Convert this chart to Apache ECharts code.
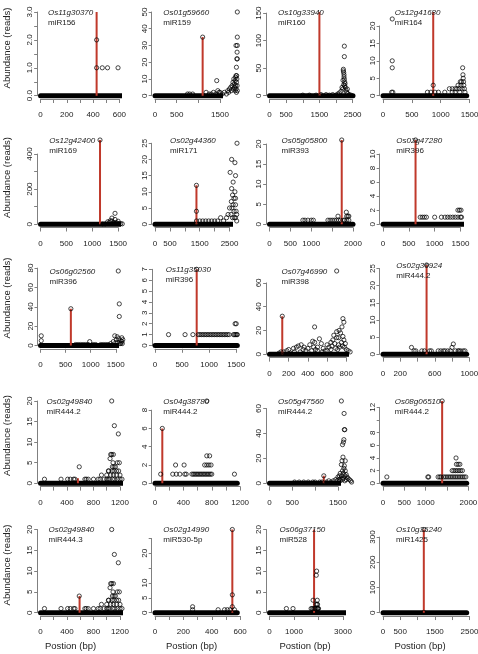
<!DOCTYPE html>
<html><head><meta charset="utf-8">
<script src="https://cdn.jsdelivr.net/npm/echarts@6/dist/echarts.min.js"></script>
<style>html,body{margin:0;padding:0;background:#fff}#c{width:478px;height:654px}</style>
</head><body><div id="c"></div>
<script>
// ---------------- data ----------------
const genes = ['Os11g30370','Os01g59660','Os10g33940','Os12g41680','Os12g42400','Os02g44360','Os05g05800','Os02g47280','Os06g02560','Os11g35030','Os07g46990','Os02g36924','Os02g49840','Os04g38780','Os05g47560','Os08g06510','Os02g49840','Os02g14990','Os06g37150','Os10g35240'];
const mirnas = ['miR156','miR159','miR160','miR164','miR169','miR171','miR393','miR396','miR396','miR396','miR398','miR444.2','miR444.2','miR444.2','miR444.2','miR444.2','miR444.3','miR530-5p','miR528','miR1425'];
const geneLen = [630,1900,2510,1450,1600,2760,2000,1620,1650,1520,870,970,1250,1160,1830,1960,1250,580,3410,2420];
const yTop = [3,50,152,24,480,26,21,12,77,7,70,26,20,9,66,13,20,28,20,330];
const redX = [427,1100,1500,870,1150,1390,1730,630,605,770,133,505,565,103,1190,1385,590,545,1820,1180];
const redH = [3,35,152,24,480,12,21,12,38,7,32,26,1.2,6,6,13,4,28,20,330];
const xStep = [100,500,500,500,500,500,500,500,500,500,200,200,200,200,500,500,200,100,1000,500];
const xLast = [600,1500,2500,1500,1500,2500,2000,1500,1500,1500,800,1000,1200,1200,1500,2000,1200,600,3000,2500];
const xLabels = [[0,200,400,600],[0,500,1500],[0,500,1500,2500],[0,500,1000,1500],[0,500,1000,1500],[0,500,1500,2500],[0,500,1000,2000],[0,500,1000,1500],[0,500,1000,1500],[0,500,1000,1500],[0,200,400,600,800],[0,200,600,1000],[0,400,800,1200],[0,400,800,1200],[0,500,1500],[0,500,1000,2000],[0,400,800,1200],[0,200,400,600],[0,1000,3000],[0,500,1500,2500]];
const yStep = [0.5,10,50,5,100,5,5,2,20,1,20,5,5,2,20,2,5,5,5,100];
const yLast = [3,50,150,20,400,25,20,10,80,7,60,25,20,8,60,12,20,25,20,300];
const yLabels = [[0,1,2,3],[0,10,20,30,40,50],[0,50,100,150],[0,5,10,15,20],[0,200,400],[0,5,10,15,20,25],[0,5,10,15,20],[0,2,4,6,8,10],[0,20,40,60,80],[0,1,2,3,4,5,6,7],[0,20,40,60],[0,5,10,15,20,25],[0,5,10,15,20],[0,2,4,6,8],[0,20,40,60],[0,2,4,6,8,12],[0,5,10,15,20],[0,5,10,20],[0,5,10,15,20],[0,100,200,300]];

const pts01 = [[427,1],[427,2],[470,1],[510,1],[590,1]];
const pts02 = [[750,1],[800,1],[870,1],[1100,35],[1180,2],[1250,1],[1300,1],[1350,2],[1400,1],[1425,9],[1450,3],[1480,2],[1500,2],[1550,1],[1600,2],[1650,1],[1680,3],[1700,2],[1720,4],[1750,5],[1760,3],[1780,6],[1800,8],[1800,4],[1820,10],[1830,7],[1840,5],[1850,9],[1850,3],[1860,11],[1860,6],[1870,12],[1870,4],[1880,17],[1880,8],[1880,2],[1890,22],[1890,10],[1895,26],[1895,6],[1900,30],[1900,35],[1900,50],[1900,22],[1900,3],[1870,30],[1885,12]];
const pts03 = [[2250,90],[2250,71],[2220,48],[2220,45],[2230,42],[2240,38],[2240,34],[2250,30],[2260,25],[2230,20],[2280,15],[2200,12],[2300,10],[2150,8],[2320,6],[2100,5],[2350,4],[2050,3],[2400,2],[1900,2],[1700,2],[1550,2],[1000,1],[1200,1],[1400,1],[1800,1],[2000,1],[2450,1],[2260,18],[2270,22],[2210,28],[2180,15],[2340,12]];
const pts04 = [[160,22],[160,10],[160,8],[150,1],[170,1],[870,3],[770,1],[830,1],[900,1],[960,1],[1070,1],[1150,2],[1200,2],[1250,2],[1280,2],[1300,3],[1320,2],[1340,4],[1350,3],[1360,4],[1380,8],[1385,6],[1390,5],[1395,4],[1400,3],[1410,2],[1420,1],[1370,2],[1330,1],[1200,1],[1250,1]];
const pts05 = [[1150,480],[1440,62],[1380,35],[1440,27],[1300,14],[1500,17],[1350,20],[1420,10],[1460,8],[1480,6],[1400,5],[1520,4],[1550,3],[1250,2],[1200,2],[1580,2],[1330,10],[1380,18]];
const pts06 = [[1390,12],[1390,4],[1390,1],[2750,25],[2570,20],[2680,19],[2520,16],[2700,15],[2620,13],[2570,11],[2680,10],[2600,9],[2650,8],[2700,8],[2560,7],[2620,6],[2700,6],[2500,5],[2580,5],[2650,4],[2720,4],[2450,3],[2550,3],[2600,2],[2700,2],[2400,2],[2300,1],[2200,2],[2100,1],[2000,1],[1900,1],[1800,1],[1700,1],[1600,1],[1500,1],[2740,3],[2740,1],[2660,2]];
const pts07 = [[1730,21],[800,1],[850,1],[920,1],[1000,1],[1050,1],[1400,1],[1450,1],[1500,1],[1550,1],[1600,1],[1650,1],[1700,1],[1780,1],[1850,1],[1900,1],[1640,2],[1850,2],[1900,2],[1840,3],[1880,2],[1800,1]];
const pts08 = [[630,12],[720,1],[760,1],[800,1],[840,1],[1000,1],[1130,1],[1200,1],[1250,1],[1300,1],[1350,1],[1400,1],[1450,1],[1500,1],[1520,1],[1450,2],[1480,2],[1510,2]];
const pts09 = [[605,38],[15,10],[15,5],[1550,77],[1570,43],[1570,30],[1480,10],[1530,9],[1510,6],[1560,7],[1600,5],[1620,4],[1450,4],[1500,3],[1540,3],[1580,2],[1600,2],[1630,2],[1400,2],[1350,1],[1300,1],[980,4],[700,1],[750,1],[800,1],[850,1],[900,1],[950,1],[1050,1],[1100,1],[1200,1],[1250,1],[1640,6],[1620,8]];
const pts10 = [[250,1],[555,1],[700,1],[770,7],[800,1],[830,1],[860,1],[890,1],[920,1],[950,1],[980,1],[1010,1],[1040,1],[1070,1],[1100,1],[1130,1],[1160,1],[1190,1],[1220,1],[1250,1],[1280,1],[1310,1],[1340,1],[1370,1],[1450,1],[1470,1],[1490,1],[1510,1],[1480,2],[1500,2],[1520,1]];
const pts11 = [[133,32],[700,70],[470,23],[765,30],[775,27],[755,23],[725,20],[700,19],[740,18],[765,15],[700,14],[775,12],[450,11],[470,10],[520,13],[540,9],[330,8],[300,7],[280,6],[360,6],[400,5],[420,8],[250,5],[200,4],[180,3],[150,2],[120,2],[100,1],[500,6],[560,5],[600,8],[620,6],[640,10],[660,12],[680,9],[650,7],[720,8],[730,6],[750,10],[760,7],[780,6],[800,4],[820,3],[840,2],[580,3],[550,2],[480,4],[440,3],[380,3],[320,2],[260,2],[220,1],[690,5],[710,4],[790,9],[670,16],[720,14],[640,4],[600,3],[500,3],[460,6],[350,4]];
const pts12 = [[505,26],[330,2],[360,1],[380,1],[450,1],[480,1],[540,1],[560,1],[640,1],[670,1],[700,1],[720,1],[750,1],[780,1],[800,2],[815,3],[840,1],[870,1],[900,1],[930,1],[950,1],[880,1]];
const pts13 = [[60,1],[310,1],[410,1],[450,1],[500,1],[520,1],[585,4],[670,1],[690,1],[720,1],[800,1],[870,1],[900,1],[920,2],[960,1],[1000,1],[1020,1],[1030,3],[1040,1],[1060,2],[1075,20],[1115,14],[1175,12],[1060,7],[1075,7],[1100,7],[1050,6],[1095,5],[1160,5],[1190,5],[1110,4],[1085,4],[1130,4],[1025,3],[1080,3],[1110,3],[1150,3],[1180,3],[1100,2],[1150,2],[1200,2],[1090,1],[1120,1],[1160,1],[1200,1],[1230,1],[1000,2]];
const pts14 = [[103,6],[80,1],[250,1],[290,2],[300,1],[350,1],[410,2],[420,1],[440,1],[520,1],[540,1],[560,1],[580,1],[600,1],[620,1],[640,1],[660,1],[680,1],[700,1],[720,1],[740,1],[760,1],[780,1],[800,1],[700,2],[730,2],[760,2],[790,2],[730,3],[770,3],[730,9],[1120,1]];
const pts15 = [[1190,6],[1575,66],[1635,56],[1650,43],[1640,43],[1630,35],[1620,33],[1600,31],[1610,21],[1590,18],[1660,18],[1575,15],[1640,14],[1630,12],[1600,10],[1660,10],[1550,8],[1620,8],[1680,7],[1530,6],[1580,6],[1650,6],[1700,5],[1500,5],[1560,4],[1620,4],[1720,4],[1450,3],[1520,3],[1600,3],[1680,3],[1750,3],[1400,2],[1480,2],[1550,2],[1650,2],[1780,2],[1300,2],[1350,1],[1250,1],[1150,1],[1100,1],[1000,1],[950,1],[850,1],[750,1],[650,1],[550,1],[1800,1]];
const pts16 = [[1385,13],[90,1],[1050,1],[1070,1],[1290,1],[1330,1],[1360,1],[1420,1],[1460,1],[1500,1],[1540,1],[1580,1],[1620,1],[1660,1],[1700,1],[1740,1],[1780,1],[1820,1],[1860,1],[1900,1],[1940,1],[1620,2],[1660,2],[1700,2],[1740,2],[1780,2],[1820,2],[1860,2],[1720,3],[1760,3],[1800,3],[1710,4]];
const pts17 = pts13;
const pts18 = [[265,2],[265,1],[445,1],[490,1],[510,1],[530,1],[545,28],[545,6],[545,2],[560,1]];
const pts19 = [[690,1],[960,1],[1780,3],[1700,1],[1750,1],[1800,1],[1850,1],[1900,2],[1910,9],[1925,10],[1950,3],[1960,2],[1940,2],[1930,1],[1980,1],[2000,1],[1880,1],[1970,1]];
const pts20 = [[1180,330],[1180,1]];
const points = [pts01,pts02,pts03,pts04,pts05,pts06,pts07,pts08,pts09,pts10,pts11,pts12,pts13,pts14,pts15,pts16,pts17,pts18,pts19,pts20];

// ---------------- layout (pixels) ----------------
const colX0 = [40.5,155,269.5,383];
const colXL = [123.3,237.3,353,466.7];
const panelY0 = [95.7,95.7,95.7,95.7, 224.2,224.2,224.2,224.2, 345.5,345.5,354.3,354.3, 483.3,483.3,483.3,483.3, 612.7,612.7,612.7,612.7];
const panelYM = [12,12,12,12, 140,140,140,140, 271,269.3,271,265, 401,401,401,401, 529.5,529.5,529.5,529.5];
const labelDx = [7.5,8.3,8.5,11.7, 8.8,15,12,13.3, 9,10.7,12,13.3, 6,8.3,8.5,11.7, 8,8.3,10,13];
const yTitleY = [48,177.5,298,435.5,565];
const xTitleX = [70.5,191.5,305,420];

const FONT = '"Liberation Sans", Arial, Helvetica, sans-serif';
const AXIS_COL = '#808080';
const grids=[], xAxes=[], yAxes=[], series=[], graphics=[];

for (let i=0;i<20;i++){
  const r=Math.floor(i/4), c=i%4;
  const x0=colX0[c], xL=colXL[c], y0=panelY0[i], yM=panelYM[i];
  const xs=(xL-x0)/geneLen[i], ys=(y0-yM)/yTop[i];
  const offX=0.04*(xL-x0), offY=0.04*(y0-yM);
  grids.push({left:x0, top:y0-yLast[i]*ys, width:xLast[i]*xs, height:yLast[i]*ys, containLabel:false, outerBoundsMode:'none'});
  const xl=xLabels[i], yl=yLabels[i];
  xAxes.push({type:'value', gridIndex:i, min:0, max:xLast[i], interval:xStep[i], offset:offX,
    splitLine:{show:false},
    axisLine:{show:true,onZero:false,lineStyle:{color:AXIS_COL,width:1}},
    axisTick:{show:true,length:4,lineStyle:{color:AXIS_COL,width:1}},
    axisLabel:{show:true,margin:12,fontSize:8,color:'#222',fontFamily:FONT,showMinLabel:true,showMaxLabel:true,hideOverlap:false,
      formatter:(v)=> xl.indexOf(v)>=0 ? String(v) : ''}});
  yAxes.push({type:'value', gridIndex:i, min:0, max:yLast[i], interval:yStep[i], offset:offY,
    splitLine:{show:false},
    axisLine:{show:true,onZero:false,lineStyle:{color:AXIS_COL,width:1}},
    axisTick:{show:true,length:3,lineStyle:{color:AXIS_COL,width:1}},
    axisLabel:{show:true,rotate:90,margin:3,fontSize:8,color:'#222',fontFamily:FONT,showMinLabel:true,showMaxLabel:true,hideOverlap:false,
      formatter:(v)=> yl.indexOf(v)>=0 ? (i===0 ? v.toFixed(1) : String(v)) : ''}});
  series.push({type:'line', xAxisIndex:i, yAxisIndex:i, data:[[0,0],[geneLen[i],0]], symbol:'none', clip:false, silent:true, z:2,
    lineStyle:{color:'#000',width:5,cap:'round'}});
  series.push({type:'line', xAxisIndex:i, yAxisIndex:i, data:[[redX[i],0],[redX[i],redH[i]]], symbol:'none', clip:false, silent:true, z:3,
    lineStyle:{color:'#c0392b',width:2}});
  series.push({type:'scatter', xAxisIndex:i, yAxisIndex:i, data:points[i], symbol:'circle', symbolSize:4.2, clip:false, silent:true, z:4,
    itemStyle:{color:'rgba(0,0,0,0)',borderColor:'#000',borderWidth:0.9}});
  graphics.push({type:'text', x:x0+labelDx[i], y:yM+0.5, silent:true, z:20,
    style:{text:genes[i], fontSize:8, fontStyle:'italic', fontFamily:FONT, fill:'#222', align:'left', verticalAlign:'middle'}});
  graphics.push({type:'text', x:x0+labelDx[i], y:yM+10.5, silent:true, z:20,
    style:{text:mirnas[i], fontSize:8, fontFamily:FONT, fill:'#222', align:'left', verticalAlign:'middle'}});
  if (c===0) graphics.push({type:'text', x:7.5, y:yTitleY[r], rotation:Math.PI/2, silent:true, z:20,
    style:{text:'Abundance (reads)', fontSize:9.5, fontFamily:FONT, fill:'#222', align:'center', verticalAlign:'middle'}});
  if (r===4) graphics.push({type:'text', x:xTitleX[c], y:646.5, silent:true, z:20,
    style:{text:'Postion (bp)', fontSize:9.5, fontFamily:FONT, fill:'#222', align:'center', verticalAlign:'middle'}});
}

const chart = echarts.init(document.getElementById('c'), null, {renderer:'canvas', width:478, height:654});
chart.setOption({animation:false, backgroundColor:'#fff', grid:grids, xAxis:xAxes, yAxis:yAxes, series:series, graphic:graphics});
</script></body></html>
